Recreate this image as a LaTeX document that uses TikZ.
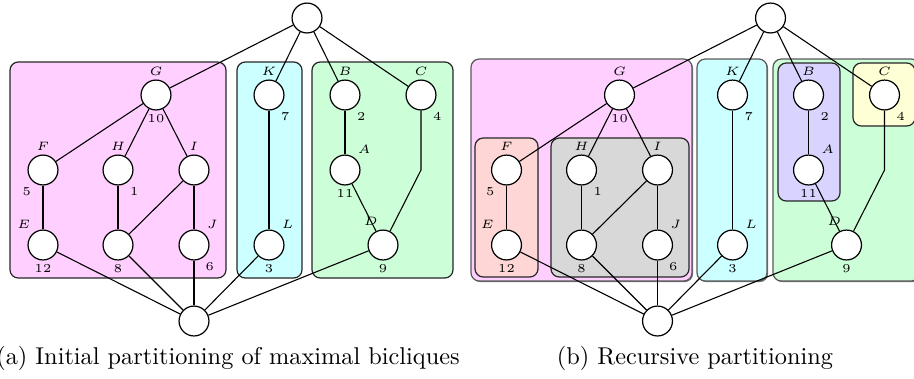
\documentclass[tikz,border=0pt]{standalone}
\usetikzlibrary{shadows}

\definecolor{boxpink}{RGB}{255,208,255}
\definecolor{boxcyan}{RGB}{204,255,255}
\definecolor{boxgreen}{RGB}{204,255,216}
\definecolor{boxred}{RGB}{255,214,214}
\definecolor{boxgray}{RGB}{216,216,216}
\definecolor{boxviolet}{RGB}{216,212,255}
\definecolor{boxyellow}{RGB}{255,255,214}

\tikzset{
  vtx/.style={circle, draw, fill=white, minimum size=12.3pt, inner sep=0pt, line width=0.5pt},
  tag/.style={font=\tiny, inner sep=1.4pt},
  edge/.style={line width=0.45pt},
  part/.style={draw=black!85, rounded corners=3.4pt, line width=0.5pt},
  outerpart/.style={part, draw=black!65,
    drop shadow={shadow xshift=0.45pt, shadow yshift=-0.45pt, fill=black!55, opacity=1}},
}

% The lattice of bicliques; drawn once per panel inside a scope with a name prefix
\newcommand\bicliquegraph{%
  \node[vtx] (top) at (307,18) {};
  \node[vtx, label={[tag]above:$G$}, label={[tag]below:10}] (G) at (156,95) {};
  \node[vtx, label={[tag]above:$K$}, label={[tag]-58:7}] (K) at (269,95) {};
  \node[vtx, label={[tag]above:$B$}, label={[tag]-58:2}] (B) at (345,95) {};
  \node[vtx, label={[tag]above:$C$}, label={[tag]-58:4}] (C) at (421,95) {};
  \node[vtx, label={[tag]above:$F$}, label={[tag]-122:5}] (F) at (43,170) {};
  \node[vtx, label={[tag]above:$H$}, label={[tag]-58:1}] (H) at (118,170) {};
  \node[vtx, label={[tag]above:$I$}] (I) at (194,170) {};
  \node[vtx, label={[tag]55:$A$}, label={[tag]below:11}] (A) at (345,170) {};
  \node[vtx, label={[tag]125:$E$}, label={[tag]below:12}] (E) at (43,245) {};
  \node[vtx, label={[tag]below:8}] (N) at (118,245) {};
  \node[vtx, label={[tag]55:$J$}, label={[tag]-60:6}] (J) at (194,245) {};
  \node[vtx, label={[tag]55:$L$}, label={[tag]below:3}] (L) at (269,245) {};
  \node[vtx, label={[tag]95:$D$}, label={[tag]below:9}] (D) at (383,245) {};
  \node[vtx] (bot) at (194,321) {};
  \coordinate (cbend) at (421,170);
  \draw[edge] (top) -- (G);
  \draw[edge] (top) -- (K);
  \draw[edge] (top) -- (B);
  \draw[edge] (top) -- (C);
  \draw[edge] (G) -- (F);
  \draw[edge] (G) -- (H);
  \draw[edge] (G) -- (I);
  \draw[edge] (F) -- (E);
  \draw[edge] (H) -- (N);
  \draw[edge] (I) -- (N);
  \draw[edge] (I) -- (J);
  \draw[edge] (K) -- (L);
  \draw[edge] (B) -- (A);
  \draw[edge] (A) -- (D);
  \draw[edge] (C) -- (cbend) -- (D);
  \draw[edge] (bot) -- (E);
  \draw[edge] (bot) -- (N);
  \draw[edge] (bot) -- (J);
  \draw[edge] (bot) -- (L);
  \draw[edge] (bot) -- (D);
}

\begin{document}
\begin{tikzpicture}[x=0.4115pt, y=-0.4115pt]
  \useasboundingbox (0,0) rectangle (914,378);

  % (a) initial partitioning
  \begin{scope}[name prefix=a-]
    \draw[part, fill=boxpink]  (10,62)  rectangle (226,278);
    \draw[part, fill=boxcyan]  (237,62) rectangle (302,278);
    \draw[part, fill=boxgreen] (312,62) rectangle (453,278);
    \bicliquegraph
  \end{scope}
  \node[anchor=base] (capa) at (228,364) {(a) Initial partitioning of maximal bicliques};

  % (b) recursive partitioning
  \begin{scope}[name prefix=b-, shift={(463.5,0)}]
    \draw[outerpart, fill=boxpink]  (7.5,59)   rectangle (228.5,281);
    \draw[outerpart, fill=boxcyan]  (233.5,59) rectangle (303.5,281);
    \draw[outerpart, fill=boxgreen] (309.5,59) rectangle (456,281);
    \draw[part, fill=boxred]    (11.5,138)  rectangle (74.5,277);
    \draw[part, fill=boxgray]   (87.5,138)  rectangle (225.5,277);
    \draw[part, fill=boxviolet] (314.5,63)  rectangle (376.5,201);
    \draw[part, fill=boxyellow] (389.5,63)  rectangle (451.5,126);
    \bicliquegraph
  \end{scope}
  \node[anchor=base] (capb) at (695,364) {(b) Recursive partitioning};
\end{tikzpicture}
\end{document}
